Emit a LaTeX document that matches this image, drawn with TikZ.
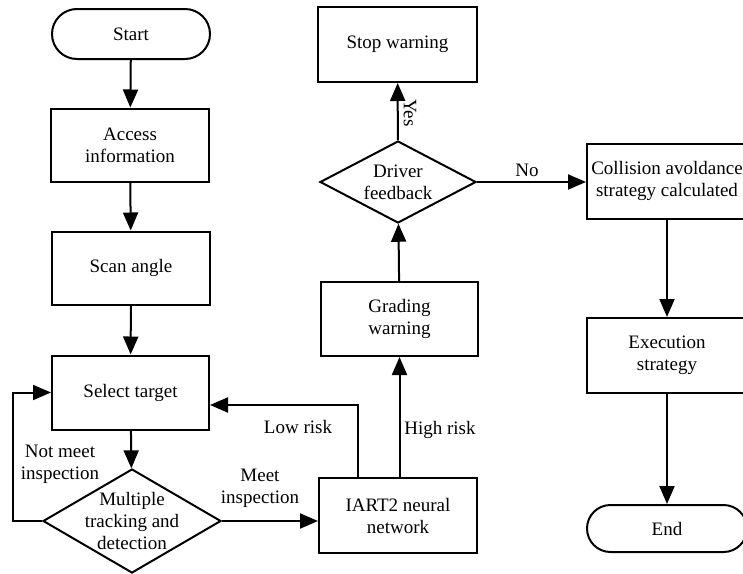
\documentclass[tikz,border=0pt]{standalone}
\usepackage{fontspec}
\setmainfont{Liberation Serif}
\usetikzlibrary{shapes.geometric,shapes.misc,arrows.meta}
\begin{document}
\begin{tikzpicture}[x=1pt,y=-1pt,
  line width=2pt,
  every node/.style={font=\fontsize{19}{22}\selectfont, align=center, inner sep=0pt},
  box/.style={draw, rectangle, minimum width=#1, minimum height=74},
  box/.default=157,
  term/.style={draw, rounded rectangle, minimum width=158, minimum height=#1},
  dia/.style={draw, diamond, minimum width=#1},
  arr/.style={-{Triangle[length=18pt,width=15pt]}},
  lbl/.style={}
]
\useasboundingbox (0,0) rectangle (743,573);
% left column
\node[term=50] (start) at (131,34) {Start};
\node[box=158, minimum height=73] (access) at (130,145) {Access\\information};
\node[box=158, minimum height=73] (scan) at (131,268) {Scan angle};
\node[box=157] (select) at (130.5,392.5) {Select target};
\node[dia=178, minimum height=104] (multi) at (132,521) {};
\node at (multi.center) {Multiple\\tracking and\\detection};
% middle column
\node[box=158, minimum height=75] (iart) at (398,515.5) {IART2 neural\\network};
\node[box=157] (grade) at (399.5,319) {Grading\\warning};
\node[dia=156, minimum height=82] (drv) at (398,182) {};
\node at (drv.center) {Driver\\feedback};
\node[box=159, minimum height=75] (stop) at (397.5,44.5) {Stop warning};
% right column
\node[box=160, minimum height=75] (coll) at (667,181) {Collision avoldance\\strategy calculated};
\node[box=160, minimum height=75] (exec) at (667,355.5) {Execution\\strategy};
\node[term=47, minimum width=160] (end) at (667,528.5) {End};
% connectors
\draw[arr] (start) -- (access);
\draw[arr] (access) -- (scan);
\draw[arr] (scan) -- (select);
\draw[arr] (select) -- (multi);
\coordinate (lp) at (13,521);
\draw[arr] (multi.west) -- (lp) |- (select.west);
\draw[arr] (multi.east) -- (multi.east -| iart.west);
\coordinate (lr) at (358,405);
\draw[arr] (iart.north -| lr) -- (lr) -- (lr -| select.east);
\draw[arr] (iart.north -| grade.south) -- (grade.south);
\draw[arr] (grade) -- (drv);
\draw[arr] (drv) -- (stop);
\draw[arr] (drv.east) -- (drv.east -| coll.west);
\draw[arr] (coll) -- (exec);
\draw[arr] (exec) -- (end);
% labels
\node[lbl] (l1) at (60,464) {Not meet\\inspection};
\node[lbl] (l2) at (260,488) {Meet\\inspection};
\node[lbl] (l3) at (298,427) {Low risk};
\node[lbl] (l4) at (440,430) {High risk};
\node[lbl, rotate=-90] (l5) at (410,113) {Yes};
\node[lbl] (l6) at (527,170) {No};
\end{tikzpicture}
\end{document}
